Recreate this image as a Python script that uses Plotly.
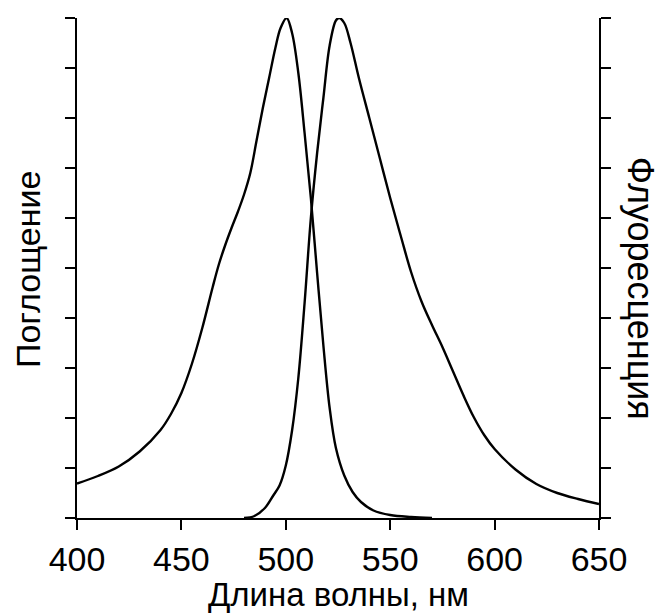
import plotly.graph_objects as go

# Absorption spectrum (left axis)
wl_abs = [400, 410, 420, 430, 440, 445, 450, 455, 460, 465, 468, 471, 474, 477, 480,
          483, 486, 489, 492, 495, 497.5, 500.4, 503, 506, 509, 512, 515, 518, 521,
          524, 528, 532, 536, 542, 550, 560, 570]
absorb = [0.69, 0.84, 1.03, 1.33, 1.76, 2.08, 2.5, 3.08, 3.8, 4.62, 5.08, 5.46, 5.8,
          6.12, 6.47, 6.9, 7.55, 8.2, 8.8, 9.4, 9.8, 10.0, 9.7, 8.9, 7.7, 6.4, 4.9,
          3.45, 2.2, 1.4, 0.85, 0.52, 0.32, 0.15, 0.06, 0.02, 0.0]

# Fluorescence spectrum (right axis)
wl_em = [480, 485, 490, 494, 497, 500, 503, 506, 509, 512, 515, 518, 521, 524, 525.6,
         528, 531, 535, 540, 545, 550, 555, 560, 565, 570, 575, 580, 585, 590, 595,
         600, 610, 620, 630, 640, 650]
emis = [0.0, 0.04, 0.2, 0.45, 0.65, 1.05, 1.75, 2.8, 4.3, 6.0, 7.3, 8.4, 9.45, 9.95,
        10.0, 9.9, 9.5, 8.8, 8.0, 7.2, 6.4, 5.65, 4.92, 4.33, 3.86, 3.42, 2.94, 2.46,
        2.02, 1.66, 1.38, 0.97, 0.68, 0.5, 0.38, 0.28]

x_ticks = [400, 450, 500, 550, 600, 650]
y_ticks = list(range(0, 11))

FONT = "Arial, Liberation Sans, sans-serif"
LW = 2.4
SMOOTH = 1.0

fig = go.Figure()
fig.add_trace(go.Scatter(x=wl_abs, y=absorb, mode="lines",
                         line=dict(color="black", width=LW, shape="spline", smoothing=SMOOTH),
                         yaxis="y", showlegend=False))
fig.add_trace(go.Scatter(x=wl_em, y=emis, mode="lines",
                         line=dict(color="black", width=LW, shape="spline", smoothing=SMOOTH),
                         yaxis="y2", showlegend=False))

# page body has an 8px default margin, so the figure is offset by 8px
fig.update_layout(
    width=656, height=606,
    margin=dict(l=69, r=65, t=10, b=96),
    paper_bgcolor="white", plot_bgcolor="white",
    font=dict(family=FONT, color="black"),
    xaxis=dict(range=[400, 650], tickvals=x_ticks, ticks="outside", ticklen=10,
               tickwidth=LW, tickcolor="black", showline=True, linecolor="black",
               linewidth=LW, showgrid=False, zeroline=False,
               tickfont=dict(size=34, family=FONT, color="black")),
    yaxis=dict(range=[0, 10], tickvals=y_ticks, ticks="outside", ticklen=10,
               tickwidth=LW, tickcolor="black", showline=True, linecolor="black",
               linewidth=LW, showgrid=False, zeroline=False, showticklabels=False),
    yaxis2=dict(range=[0, 10], tickvals=y_ticks, ticks="outside", ticklen=10,
                tickwidth=LW, tickcolor="black", showline=True, linecolor="black",
                linewidth=LW, showgrid=False, zeroline=False, showticklabels=False,
                overlaying="y", side="right"),
    annotations=[
        dict(text="Длина волны, нм", xref="paper", yref="paper", x=0.5, y=-0.152,
             xanchor="center", yanchor="middle", showarrow=False,
             font=dict(size=33, family=FONT, color="black")),
        dict(text="Поглощение", xref="paper", yref="paper", x=-0.094, y=0.498,
             xanchor="center", yanchor="middle", textangle=-90, showarrow=False,
             font=dict(size=34, family=FONT, color="black")),
        dict(text="Флуоресценция", xref="paper", yref="paper", x=1.081, y=0.46,
             xanchor="center", yanchor="middle", textangle=90, showarrow=False,
             font=dict(size=36, family=FONT, color="black")),
    ],
)

fig.write_html("out.html")
